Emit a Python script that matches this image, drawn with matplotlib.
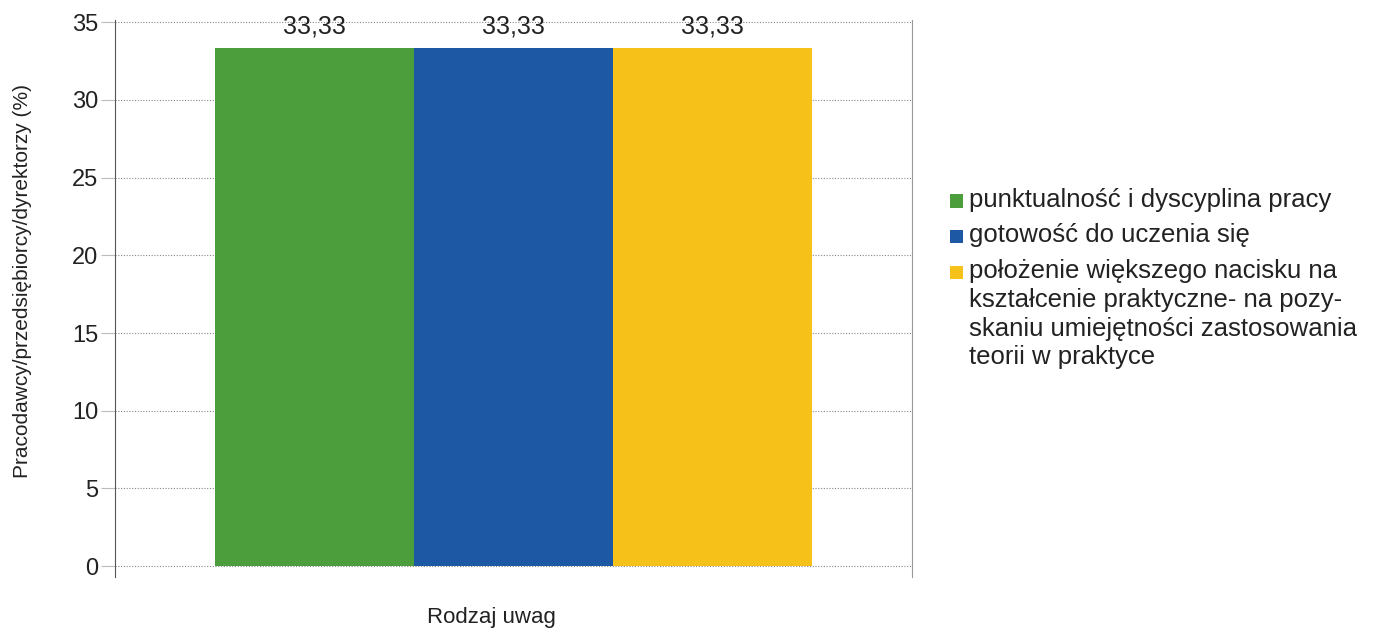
import matplotlib.pyplot as plt
from matplotlib.patches import Rectangle

plt.rcParams['font.family'] = ['Liberation Sans', 'DejaVu Sans']

categories = [
    'punktualność i dyscyplina pracy',
    'gotowość do uczenia się',
    'położenie większego nacisku na\nkształcenie praktyczne- na pozy-\n'
    'skaniu umiejętności zastosowania\nteorii w praktyce',
]
values = [33.33, 33.33, 33.33]
colors = ['#4c9e3c', '#1c58a4', '#f6c21a']
y_ticks = [0, 5, 10, 15, 20, 25, 30, 35]


def draw_legend(figure):
    # square first, then the (possibly wrapped) label, top line centred on it
    y = 1 - 201 / 633
    for label, color in zip(categories, colors):
        figure.patches.append(Rectangle((0.688, y - 0.0105), 0.0095, 0.021,
                                        transform=figure.transFigure,
                                        facecolor=color, edgecolor='none'))
        figure.text(0.7015, y + 0.021, label, fontsize=18.5, va='top',
                    ha='left', color='#222222', linespacing=1.25,
                    transform=figure.transFigure)
        y -= 0.0565


figure = plt.figure(figsize=(13.81, 6.33), dpi=100)
axes = figure.add_axes([0.0833, 0.0885, 0.5771, 0.8795])

positions = list(range(len(values)))
bars = axes.bar(positions, values, width=1.0, color=colors)
axes.bar_label(bars, labels=[f'{v:.2f}'.replace('.', ',') for v in values],
               padding=7, fontsize=18, color='#222222')

axes.set_xlim(-1.0, 3.0)
axes.set_ylim(-0.7, 35.13)
axes.set_yticks(y_ticks)
axes.set_xticks([])
axes.tick_params(axis='y', length=10, color='#bbbbbb', width=0.8, pad=2,
                 labelsize=17, labelcolor='#222222')
axes.grid(axis='y', color='#888888', linestyle=(0, (1, 1.5)), linewidth=0.8)
axes.set_axisbelow(True)
for side in ['top', 'bottom']:
    axes.spines[side].set_visible(False)
axes.spines['left'].set_color('#555555')
axes.spines['right'].set_color('#999999')

figure.text(0.016, 0.556, 'Pracodawcy/przedsiębiorcy/dyrektorzy (%)',
            rotation=90, fontsize=15, ha='center', va='center',
            color='#222222')
figure.text(0.356, 0.025, 'Rodzaj uwag', fontsize=16, ha='center',
            va='center', color='#222222')

draw_legend(figure)

figure.savefig('out.png', dpi=100)
